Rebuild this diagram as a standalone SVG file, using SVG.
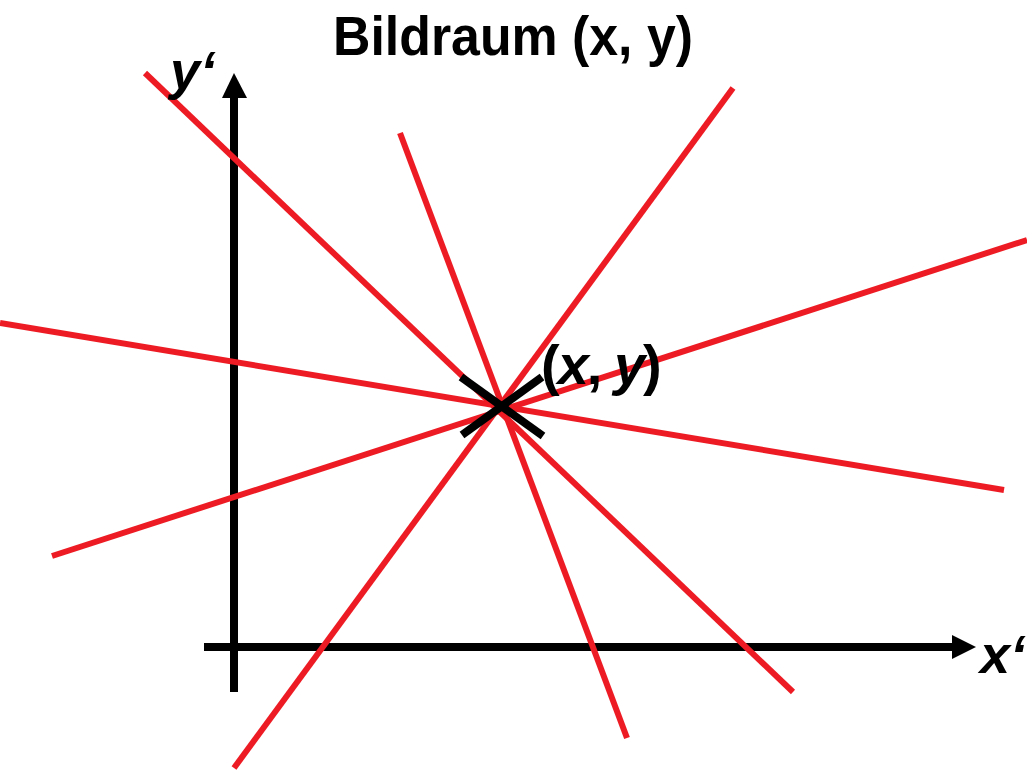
<svg xmlns="http://www.w3.org/2000/svg" width="1027" height="773" viewBox="0 0 1027 773">
<defs>
<style>
.red{stroke:#ED1C24;stroke-width:6;fill:none}
.ax{stroke:#000;stroke-width:8;fill:none}
.lbl{font-family:"Liberation Sans",Arial,sans-serif;font-weight:bold;fill:#000}
</style>
</defs>
<rect width="1027" height="773" fill="#fff"/>
<g id="title"><text class="lbl" x="333" y="55" font-size="55" textLength="360" lengthAdjust="spacingAndGlyphs">Bildraum (x, y)</text></g>
<g id="axes">
<line class="ax" x1="234" y1="692" x2="234" y2="95"/>
<polygon points="234,73 222,98 247,98" fill="#000"/>
<line class="ax" x1="204" y1="647" x2="955" y2="647"/>
<polygon points="976,647 952,635 952,659" fill="#000"/>
</g>
<g id="connectors">
<line class="red" x1="145" y1="73" x2="793" y2="692"/>
<line class="red" x1="400" y1="133" x2="627" y2="738"/>
<line class="red" x1="733" y1="88" x2="234" y2="768"/>
<line class="red" x1="1027" y1="240" x2="52" y2="556"/>
<line class="red" x1="0" y1="323" x2="1004" y2="490"/>
</g>
<g id="point">
<line x1="461" y1="377" x2="543" y2="436" stroke="#000" stroke-width="8"/>
<line x1="462" y1="435" x2="542" y2="377" stroke="#000" stroke-width="8"/>
<text class="lbl" x="541" y="384" font-size="56" letter-spacing="-2">(<tspan font-style="italic">x</tspan>, <tspan font-style="italic">y</tspan>)</text>
</g>
<g id="labels">
<text class="lbl" x="170" y="89" font-size="54" font-style="italic">y‘</text>
<text class="lbl" x="980" y="673" font-size="54" font-style="italic">x‘</text>
</g>
</svg>
